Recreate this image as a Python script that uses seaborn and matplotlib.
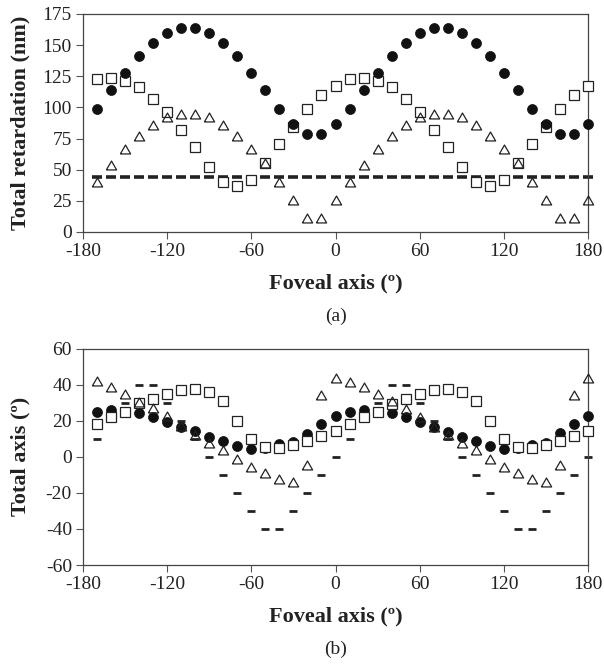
import matplotlib
matplotlib.use('Agg')
import matplotlib.pyplot as plt
import seaborn as sns

# eixo foveal (graus)
foveal = [-170, -160, -150, -140, -130, -120, -110, -100, -90, -80, -70, -60,
          -50, -40, -30, -20, -10, 0, 10, 20, 30, 40, 50, 60, 70, 80, 90,
          100, 110, 120, 130, 140, 150, 160, 170, 180]

# (a) retardação total (nm)
ret_circles = [99, 114, 128, 141, 152, 160, 164, 164, 160, 152, 141, 128, 114, 99, 87, 79, 79, 87,
               99, 114, 128, 141, 152, 160, 164, 164, 160, 152, 141, 128, 114, 99, 87, 79, 79, 87]
ret_squares = [123, 124, 121, 116, 107, 96, 82, 68, 52, 40.5, 37, 42, 55, 71, 84, 99, 110, 117,
               123, 124, 121, 116, 107, 96, 82, 68, 52, 40.5, 37, 42, 55, 71, 84, 99, 110, 117]
ret_triangles = [40, 54, 67, 77, 86, 92, 95, 95, 92, 86, 77, 67, 55, 40, 26, 11, 11, 26,
                 40, 54, 67, 77, 86, 92, 95, 95, 92, 86, 77, 67, 55, 40, 26, 11, 11, 26]
ret_dashes = [44, 44, 44, 44, 44, 44, 44, 44, 44, 44, 44, 44, 44, 44, 44, 44, 44, 44,
              44, 44, 44, 44, 44, 44, 44, 44, 44, 44, 44, 44, 44, 44, 44, 44, 44, 44]

# (b) eixo total (graus)
axis_circles = [25, 26, 25, 24, 22, 19.5, 16.5, 14, 11, 8.5, 6, 4.5, 5, 7, 8, 12.5, 18, 22.5,
                25, 26, 25, 24, 22, 19.5, 16.5, 13.5, 11, 8.5, 6, 4.5, 5, 6.5, 7.5, 13, 18, 22.5]
axis_squares = [18, 22, 25, 30, 32, 35, 37, 37.5, 36, 31, 20, 10, 5.5, 4.6, 6.5, 8.5, 11.5, 14.5,
                18, 22, 25, 29.5, 32, 35, 37, 37.5, 36, 31, 20, 10, 5.5, 4.6, 6.5, 8.5, 11.5, 14.5]
axis_triangles = [42, 38.5, 35, 30.5, 27, 22.5, 17, 12, 7.5, 3.5, -1, -5.5, -9, -12.5, -14, -4.5, 34, 43.5,
                  41.5, 38.5, 35, 31, 26.5, 22, 16.5, 12, 7.5, 3.5, -1, -5.5, -9, -12.5, -14, -4.5, 34, 43.5]
axis_dashes = [10, 20, 30, 40, 40, 30, 20, 10, 0, -10, -20, -30, -40, -40, -30, -20, -10, 0,
               10, 20, 30, 40, 40, 30, 20, 10, 0, -10, -20, -30, -40, -40, -30, -20, -10, 0]

# triângulo equilátero fechado
TRI = [(-1, -0.866), (1, -0.866), (0, 0.866), (-1, -0.866)]
INK = '#222222'


def pontos(ax, y, marker, ms, fc, ec, mew, z):
    sns.lineplot(x=foveal, y=y, ax=ax, marker=marker, linestyle='none',
                 markersize=ms, markerfacecolor=fc, markeredgecolor=ec,
                 markeredgewidth=mew, color=ec, errorbar=None, zorder=z,
                 clip_on=False)


def estilo(ax, yticks, ylabel, letra):
    ax.set_xlim(-180, 180)
    ax.set_xticks([-180, -120, -60, 0, 60, 120, 180])
    ax.set_yticks(yticks)
    ax.set_ylim(yticks[0], yticks[-1])
    ax.tick_params(direction='out', length=5, width=0.8, colors='#555555',
                   labelcolor=INK, labelsize=14, pad=3)
    for s in ax.spines.values():
        s.set_color('#444444')
        s.set_linewidth(0.9)
    ax.set_xlabel('Foveal axis (º)', fontsize=16, fontweight='bold', color=INK)
    ax.set_ylabel(ylabel, fontsize=16, fontweight='bold', color=INK)
    h = ax.get_position().height * 666
    ax.xaxis.set_label_coords(0.5, -51 / h)
    ax.xaxis.label.set_verticalalignment('center')
    ax.yaxis.set_label_coords(-63 / 505, 0.5)
    ax.yaxis.label.set_verticalalignment('center')
    ax.text(0.5, -84 / h, letra, transform=ax.transAxes, ha='center',
            va='center', fontsize=14, color=INK)


def main():
    sns.set_style('ticks')
    plt.rcParams['font.family'] = ['Liberation Serif', 'DejaVu Serif']
    plt.rcParams['axes.unicode_minus'] = False
    plt.rcParams['lines.solid_joinstyle'] = 'miter'

    fig = plt.figure(figsize=(6.04, 6.66), dpi=100)
    ax1 = fig.add_axes([83 / 604, 1 - 232 / 666, 505 / 604, 218 / 666])
    ax2 = fig.add_axes([83 / 604, 1 - 565 / 666, 505 / 604, 216.5 / 666])

    # painel (a)
    pontos(ax1, ret_dashes, '_', 7.2, INK, INK, 2.6, 2)
    pontos(ax1, ret_squares, 's', 6.6, 'white', INK, 0.9, 3)
    pontos(ax1, ret_circles, 'o', 7.2, '#111111', '#111111', 0.5, 4)
    pontos(ax1, ret_triangles, TRI, 7.4, 'none', INK, 0.9, 5)
    estilo(ax1, [0, 25, 50, 75, 100, 125, 150, 175], 'Total retardation (nm)', '(a)')

    # painel (b)
    pontos(ax2, axis_dashes, '_', 5.6, INK, INK, 2.0, 2)
    pontos(ax2, axis_circles, 'o', 7.2, '#111111', '#111111', 0.5, 3)
    pontos(ax2, axis_squares, 's', 6.6, 'white', INK, 0.9, 4)
    pontos(ax2, axis_triangles, TRI, 7.4, 'none', INK, 0.9, 5)
    estilo(ax2, [-60, -40, -20, 0, 20, 40, 60], 'Total axis (º)', '(b)')

    fig.savefig('out.png', dpi=100)


if __name__ == '__main__':
    main()
